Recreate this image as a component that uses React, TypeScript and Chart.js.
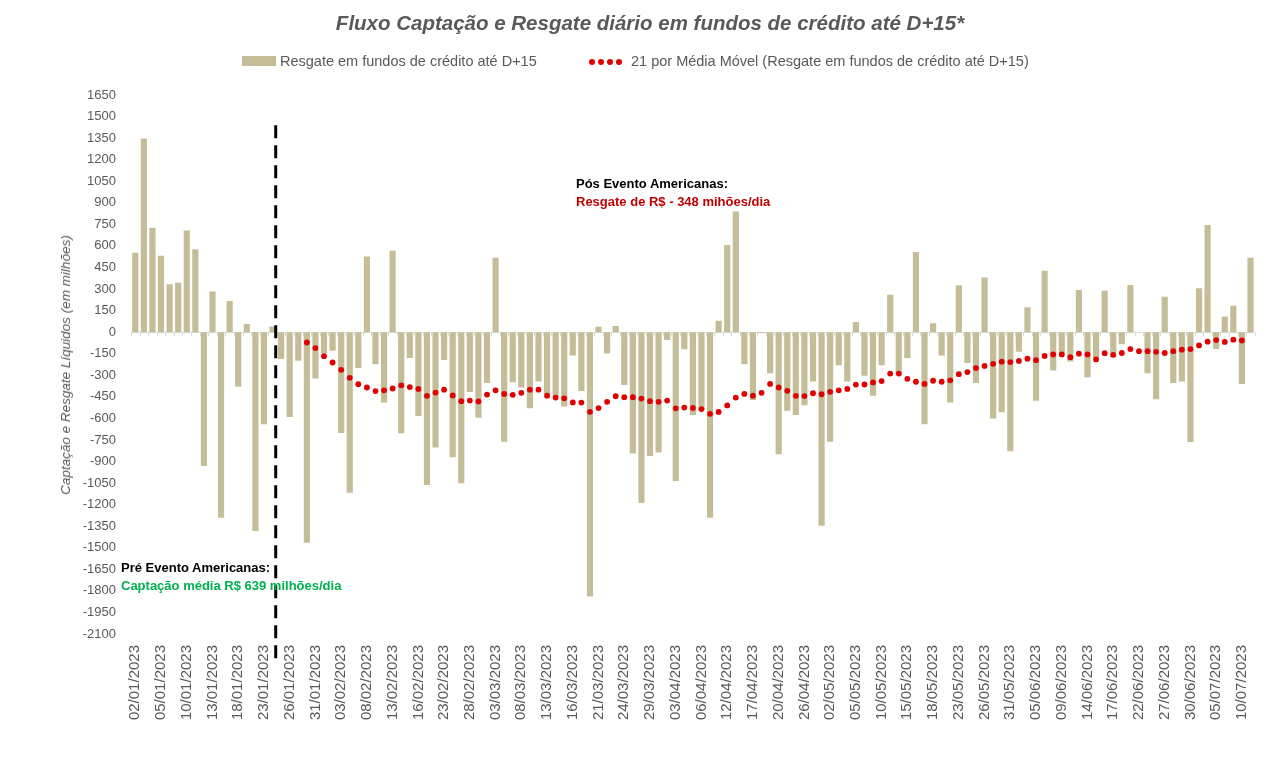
import { useEffect, useRef } from "react";
import { Chart, registerables } from "chart.js";

Chart.register(...registerables);

// ---------- DATA ----------
const dates: string[] = [
  // Jan
  "02/01/2023", "03/01/2023", "04/01/2023", "05/01/2023", "06/01/2023", "09/01/2023", "10/01/2023", "11/01/2023",
  "12/01/2023", "13/01/2023", "16/01/2023", "17/01/2023", "18/01/2023", "19/01/2023", "20/01/2023", "23/01/2023",
  "24/01/2023", "25/01/2023", "26/01/2023", "27/01/2023", "30/01/2023", "31/01/2023",
  // Feb
  "01/02/2023", "02/02/2023", "03/02/2023", "06/02/2023", "07/02/2023", "08/02/2023", "09/02/2023", "10/02/2023",
  "13/02/2023", "14/02/2023", "15/02/2023", "16/02/2023", "17/02/2023", "22/02/2023", "23/02/2023", "24/02/2023",
  "27/02/2023", "28/02/2023",
  // Mar
  "01/03/2023", "02/03/2023", "03/03/2023", "06/03/2023", "07/03/2023", "08/03/2023", "09/03/2023", "10/03/2023",
  "13/03/2023", "14/03/2023", "15/03/2023", "16/03/2023", "17/03/2023", "20/03/2023", "21/03/2023", "22/03/2023",
  "23/03/2023", "24/03/2023", "27/03/2023", "28/03/2023", "29/03/2023", "30/03/2023", "31/03/2023",
  // Apr
  "03/04/2023", "04/04/2023", "05/04/2023", "06/04/2023", "10/04/2023", "11/04/2023", "12/04/2023", "13/04/2023",
  "14/04/2023", "17/04/2023", "18/04/2023", "19/04/2023", "20/04/2023", "24/04/2023", "25/04/2023", "26/04/2023",
  "27/04/2023", "28/04/2023",
  // May
  "02/05/2023", "03/05/2023", "04/05/2023", "05/05/2023", "08/05/2023", "09/05/2023", "10/05/2023", "11/05/2023",
  "12/05/2023", "15/05/2023", "16/05/2023", "17/05/2023", "18/05/2023", "19/05/2023", "22/05/2023", "23/05/2023",
  "24/05/2023", "25/05/2023", "26/05/2023", "29/05/2023", "30/05/2023", "31/05/2023",
  // Jun
  "01/06/2023", "02/06/2023", "05/06/2023", "06/06/2023", "07/06/2023", "09/06/2023", "12/06/2023", "13/06/2023",
  "14/06/2023", "15/06/2023", "16/06/2023", "17/06/2023", "19/06/2023", "20/06/2023", "22/06/2023", "23/06/2023",
  "26/06/2023", "27/06/2023", "28/06/2023", "29/06/2023", "30/06/2023",
  // Jul
  "03/07/2023", "04/07/2023", "05/07/2023", "06/07/2023", "07/07/2023", "10/07/2023", "11/07/2023",
];

// Resgate em fundos de crédito até D+15 (R$ milhões)
const flows: number[] = [
  552, 1347, 726, 532, 333, 343, 708, 577, -932, 283,
  -1292, 216, -380, 57, -1384, -641, 40, -186, -591, -199,
  -1466, -323, -149, -129, -701, -1118, -249, 527, -224, -490,
  567, -703, -179, -584, -1064, -803, -194, -870, -1051, -417,
  -596, -353, 517, -763, -348, -385, -529, -343, -435, -452,
  -517, -162, -410, -1839, 37, -149, 42, -368, -845, -1188,
  -862, -837, -55, -1036, -119, -577, -539, -1292, 80, 606,
  840, -224, -472, -7, -286, -850, -547, -577, -509, -343,
  -1347, -763, -231, -343, 70, -303, -442, -231, 261, -298,
  -179, 557, -641, 62, -162, -490, 326, -214, -353, 380,
  -601, -557, -828, -137, 174, -477, 427, -266, -157, -204,
  293, -313, -179, 288, -174, -84, 328, 0, -286, -467,
  246, -353, -343, -765, 306, 745, -117, 109, 184, -360,
  517,
];

// 21 por Média Móvel (read from the dotted series)
const movingAvg21: (number | null)[] = [
  null, null, null, null, null, null, null, null, null, null,
  null, null, null, null, null, null, null, null, null, null,
  -72, -111, -167, -211, -262, -318, -362, -385, -410, -405,
  -392, -370, -382, -395, -443, -420, -400, -440, -480, -476,
  -482, -434, -405, -430, -436, -422, -400, -400, -442, -455,
  -460, -489, -490, -554, -528, -485, -446, -452, -452, -462,
  -480, -485, -476, -530, -525, -527, -535, -568, -555, -510,
  -455, -430, -442, -422, -360, -385, -408, -443, -445, -425,
  -432, -415, -405, -395, -365, -364, -350, -340, -288, -288,
  -325, -345, -360, -338, -345, -335, -292, -278, -250, -235,
  -220, -205, -208, -200, -185, -195, -165, -155, -155, -174,
  -150, -155, -190, -146, -158, -145, -118, -132, -132, -137,
  -145, -132, -122, -118, -92, -66, -55, -68, -52, -58,
  null,
];

const yMin = -2100;
const yMax = 1650;
const yStep = 150;
const labelEvery = 3;
const eventIndex = 16; // last bar before the event marker
const eventTopValue = 1440;

const titleText = "Fluxo Captação e Resgate diário em fundos de crédito até D+15*";
const barLabel = "Resgate em fundos de crédito até D+15";
const maLabel = "21 por Média Móvel (Resgate em fundos de crédito até D+15)";
const yTitle = "Captação e Resgate Líquidos (em milhões)";

// ---------- STYLE ----------
const FONT = '"Liberation Sans", Arial, sans-serif';
const GRAY = "#595959";
const BAR = "#C4BD97";
const RED = "#E00000";

const decorPlugin = {
  id: "decor",
  beforeDatasetsDraw(chart: any) {
    const { ctx, chartArea, scales } = chart;
    const y0 = Math.round(scales.y.getPixelForValue(0)) + 0.5;
    const n = chart.data.labels.length;
    const w = (chartArea.right - chartArea.left) / n;
    ctx.save();
    ctx.strokeStyle = "#D9D9D9";
    ctx.lineWidth = 1;
    ctx.beginPath();
    ctx.moveTo(chartArea.left, y0);
    ctx.lineTo(chartArea.right, y0);
    for (let i = 0; i <= n; i++) {
      const x = Math.round(chartArea.left + i * w) + 0.5;
      ctx.moveTo(x, y0);
      ctx.lineTo(x, y0 + 4);
    }
    ctx.stroke();
    ctx.restore();
  },
  afterDatasetsDraw(chart: any) {
    const { ctx, chartArea, scales } = chart;
    const n = chart.data.labels.length;
    const w = (chartArea.right - chartArea.left) / n;
    const x = scales.x.getPixelForValue(eventIndex) + 0.37 * w;
    const top = scales.y.getPixelForValue(eventTopValue);
    ctx.save();
    ctx.strokeStyle = "#000000";
    ctx.lineWidth = 3;
    ctx.setLineDash([13, 7]);
    ctx.beginPath();
    ctx.moveTo(x, top);
    ctx.lineTo(x, chartArea.bottom + 27);
    ctx.stroke();
    ctx.restore();
  },
};

export default function App() {
  const canvasRef = useRef<HTMLCanvasElement | null>(null);

  useEffect(() => {
    if (!canvasRef.current) return;
    const chart = new Chart(canvasRef.current, {
      data: {
        labels: dates,
        datasets: [
          {
            type: "line",
            label: maLabel,
            data: movingAvg21,
            showLine: false,
            pointRadius: 2.9,
            pointHoverRadius: 2.9,
            pointBorderWidth: 0,
            pointBackgroundColor: RED,
            borderColor: RED,
            backgroundColor: RED,
            order: 0,
          },
          {
            type: "bar",
            label: barLabel,
            data: flows,
            backgroundColor: BAR,
            borderWidth: 0,
            barPercentage: 0.72,
            categoryPercentage: 1,
            order: 1,
          },
        ],
      } as any,
      options: {
        animation: false,
        responsive: false,
        maintainAspectRatio: false,
        layout: { padding: { top: 95, left: 0, right: 7, bottom: 0 } },
        plugins: {
          legend: { display: false },
          tooltip: { enabled: false },
          title: { display: false },
        },
        scales: {
          x: {
            type: "category",
            offset: true,
            grid: { display: false, drawTicks: false },
            border: { display: false },
            ticks: {
              autoSkip: false,
              maxRotation: 90,
              minRotation: 90,
              padding: 11,
              color: GRAY,
              font: { family: FONT, size: 15 },
              callback: (_v: any, i: number) => (i % labelEvery === 0 ? dates[i] : null),
            },
            afterFit: (s: any) => {
              s.height = 134;
            },
          },
          y: {
            min: yMin,
            max: yMax,
            grid: { display: false, drawTicks: false },
            border: { display: false },
            ticks: {
              stepSize: yStep,
              padding: 15,
              color: GRAY,
              font: { family: FONT, size: 13 },
              callback: (v: any) => String(v),
            },
            afterFit: (s: any) => {
              s.width = 131;
            },
          },
        },
      } as any,
      plugins: [decorPlugin],
    });
    return () => chart.destroy();
  }, []);

  const abs = (o: any) => ({ position: "absolute" as const, whiteSpace: "nowrap" as const, ...o });

  return (
    <div
      style={{
        position: "fixed",
        left: 0,
        top: 0,
        width: 1271,
        height: 768,
        background: "#ffffff",
        fontFamily: FONT,
        color: GRAY,
        overflow: "hidden",
      }}
    >
      <canvas ref={canvasRef} width={1271} height={768} style={{ position: "absolute", left: 0, top: 0, width: 1271, height: 768 }} />
      <div style={abs({ left: 250, width: 800, top: 10, textAlign: "center", fontSize: 20.5, lineHeight: "26px", fontWeight: "bold", fontStyle: "italic", color: GRAY })}>
        {titleText}
      </div>
      {/* legend */}
      <div style={abs({ left: 242, top: 56, width: 34, height: 10, background: BAR })} />
      <div style={abs({ left: 280, top: 52, fontSize: 14.5, lineHeight: "18px" })}>{barLabel}</div>
      {[0, 1, 2, 3].map((k) => (
        <div key={k} style={abs({ left: 589, top: 59, width: 6, height: 6, borderRadius: "50%", background: RED, marginLeft: k * 9 })} />
      ))}
      <div style={abs({ left: 631, top: 52, fontSize: 14.5, lineHeight: "18px" })}>{maLabel}</div>
      {/* y title */}
      <div style={abs({ left: 66, top: 365, fontSize: 13.5, lineHeight: "16px", fontStyle: "italic", transform: "translate(-50%, -50%) rotate(-90deg)" })}>
        {yTitle}
      </div>
      {/* annotations */}
      <div style={abs({ left: 576, top: 176, fontSize: 13, lineHeight: "16px", fontWeight: "bold", color: "#000000" })}>Pós Evento Americanas:</div>
      <div style={abs({ left: 576, top: 194, fontSize: 13, lineHeight: "16px", fontWeight: "bold", color: "#C00000" })}>Resgate de R$ - 348 mihões/dia</div>
      <div style={abs({ left: 121, top: 560, fontSize: 13, lineHeight: "16px", fontWeight: "bold", color: "#000000" })}>Pré Evento Americanas:</div>
      <div style={abs({ left: 121, top: 578, fontSize: 13, lineHeight: "16px", fontWeight: "bold", color: "#00B050" })}>Captação média R$ 639 milhões/dia</div>
    </div>
  );
}
